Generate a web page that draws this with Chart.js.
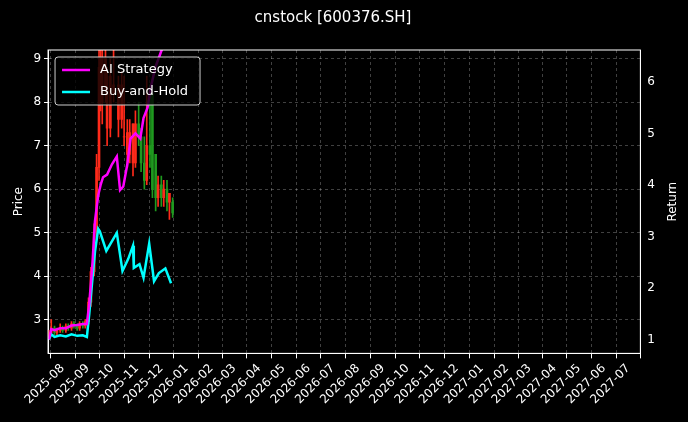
<!DOCTYPE html>
<html lang="en">
<head>
<meta charset="UTF-8" />
<title>cnstock [600376.SH]</title>
<script src="https://cdn.jsdelivr.net/npm/chart.js"></script>
<style>
  html, body { margin: 0; padding: 0; background: #000; }
</style>
</head>
<body>
<canvas id="chart" width="688" height="422"></canvas>
<script>
// Candles: date, open, high, low, close
const candleDates = ['2025-07-15','2025-07-18','2025-07-22','2025-07-25','2025-07-29','2025-08-01','2025-08-05','2025-08-08','2025-08-12','2025-08-15','2025-08-19','2025-08-22','2025-08-26','2025-08-29','2025-09-02','2025-09-05','2025-09-09','2025-09-12','2025-09-15','2025-09-17','2025-09-19','2025-09-23','2025-09-25','2025-09-29','2025-10-03','2025-10-09','2025-10-13','2025-10-16','2025-10-20','2025-10-23','2025-10-27','2025-10-30','2025-11-03','2025-11-06','2025-11-10','2025-11-13','2025-11-17','2025-11-20','2025-11-24','2025-11-27','2025-12-01','2025-12-04','2025-12-08','2025-12-11','2025-12-15'];
const openP  = [2.65,2.70,2.80,2.70,2.75,2.80,2.75,2.85,2.80,2.90,2.85,2.80,2.90,2.85,2.95,3.40,4.10,5.00,6.50,8.20,8.00,8.30,7.40,7.40,8.20,7.60,7.60,7.20,6.80,6.80,6.60,6.60,7.50,7.20,6.60,6.20,7.00,8.20,6.80,5.80,6.10,5.80,6.00,5.70,5.70];
const highP  = [2.75,3.00,2.85,2.80,2.90,2.85,2.90,2.90,2.95,2.95,2.90,2.95,2.95,3.00,3.50,4.20,5.20,6.80,9.50,9.60,9.40,9.60,8.80,9.00,9.40,8.60,8.70,8.60,7.60,7.60,7.50,7.80,8.00,7.40,7.20,8.60,8.40,7.00,6.40,6.30,6.30,6.20,6.20,5.90,5.80];
const lowP   = [2.60,2.65,2.65,2.62,2.70,2.70,2.70,2.75,2.75,2.80,2.75,2.75,2.80,2.80,2.90,3.30,4.00,4.90,6.20,7.80,7.50,8.00,7.00,7.20,8.00,7.20,7.40,7.00,6.50,6.60,6.30,6.50,7.00,6.40,6.00,6.10,6.50,5.80,5.50,5.60,5.60,5.60,5.50,5.30,5.35];
const closeP = [2.70,2.80,2.70,2.75,2.80,2.75,2.85,2.80,2.90,2.85,2.80,2.90,2.85,2.95,3.40,4.10,5.00,6.50,8.80,9.00,9.00,9.00,8.60,8.60,8.40,8.40,8.40,7.20,7.30,7.30,7.50,7.50,7.20,6.60,6.20,7.00,6.80,6.00,5.80,6.10,5.80,6.00,5.70,5.90,5.45];

// Returns
const aiDates = ['2025-07-15','2025-07-18','2025-07-22','2025-07-29','2025-08-05','2025-08-12','2025-08-19','2025-08-26','2025-08-31','2025-09-03','2025-09-07','2025-09-10','2025-09-14','2025-09-17','2025-09-20','2025-09-25','2025-10-01','2025-10-07','2025-10-11','2025-10-15','2025-10-20','2025-10-24','2025-10-30','2025-11-05','2025-11-09','2025-11-14','2025-11-18','2025-11-24','2025-12-01','2025-12-08'];
const aiRet = [1.00,1.20,1.18,1.22,1.22,1.27,1.28,1.30,1.30,1.70,2.50,3.30,3.80,4.00,4.15,4.20,4.40,4.55,3.90,3.97,4.40,4.90,5.00,4.90,5.30,5.50,5.90,6.30,6.60,6.90];
const bhDates = ['2025-07-15','2025-07-18','2025-07-22','2025-07-29','2025-08-05','2025-08-12','2025-08-19','2025-08-26','2025-08-31','2025-09-03','2025-09-07','2025-09-10','2025-09-14','2025-09-16','2025-09-24','2025-10-07','2025-10-14','2025-10-21','2025-10-27','2025-10-28','2025-11-04','2025-11-09','2025-11-16','2025-11-22','2025-11-28','2025-12-06','2025-12-13'];
const bhRet = [1.00,1.10,1.05,1.08,1.06,1.10,1.07,1.08,1.05,1.50,2.20,2.70,3.15,3.10,2.72,3.07,2.33,2.56,2.82,2.39,2.46,2.20,2.86,2.13,2.29,2.38,2.09];

const monthTicks = ['2025-08','2025-09','2025-10','2025-11','2025-12','2026-01','2026-02','2026-03','2026-04','2026-05','2026-06','2026-07','2026-08','2026-09','2026-10','2026-11','2026-12','2027-01','2027-02','2027-03','2027-04','2027-05','2027-06','2027-07'];

const day = s => Date.parse(s.length === 7 ? s + '-01' : s) / 86400000;
const fmt = d => new Date(d * 86400000).toISOString().slice(0, 7);

const candleColor = closeP.map((c, i) => c >= openP[i] ? '#ff2a1a' : '#1f9a1f');
const wicks = candleDates.map((d, i) => ({ x: day(d), y: [lowP[i], highP[i]] }));
const bodies = candleDates.map((d, i) => ({ x: day(d), y: [openP[i], closeP[i]] }));
const FONT = 'DejaVu Sans';

const overlay = {
  id: 'overlay',
  afterDraw(chart) {
    const { ctx, chartArea: a } = chart;
    ctx.save();
    // frame
    ctx.strokeStyle = '#ffffff'; ctx.lineWidth = 1;
    ctx.strokeRect(a.left, a.top, a.right - a.left, a.bottom - a.top);
    // right axis title, bottom-to-top like the left one
    ctx.fillStyle = '#ffffff';
    ctx.font = '12px "' + FONT + '"';
    ctx.translate(673, (a.top + a.bottom) / 2);
    ctx.rotate(-Math.PI / 2);
    ctx.textAlign = 'center'; ctx.textBaseline = 'middle';
    ctx.fillText('Return', 0, 0);
    ctx.setTransform(1, 0, 0, 1, 0, 0);
    // legend inside
    const x = a.left + 7, y = a.top + 7;
    ctx.fillStyle = 'rgba(0,0,0,0.8)';
    ctx.strokeStyle = '#cccccc'; ctx.lineWidth = 1;
    ctx.beginPath();
    ctx.roundRect(x, y, 145, 48, 3);
    ctx.fill(); ctx.stroke();
    ctx.font = '13px "' + FONT + '"';
    ctx.textAlign = 'left'; ctx.textBaseline = 'middle';
    [['AI Strategy', '#ff00ff'], ['Buy-and-Hold', '#00ffff']].forEach(([t, c], i) => {
      const ly = y + 13 + i * 22;
      ctx.strokeStyle = c; ctx.lineWidth = 2.5;
      ctx.beginPath(); ctx.moveTo(x + 7, ly); ctx.lineTo(x + 35, ly); ctx.stroke();
      ctx.fillStyle = '#ffffff';
      ctx.fillText(t, x + 45, ly);
    });
    ctx.restore();
  }
};

new Chart(document.getElementById('chart'), {
  type: 'bar',
  data: {
    datasets: [
      { type: 'line', data: aiDates.map((d, i) => ({ x: day(d), y: aiRet[i] })), yAxisID: 'y2',
        borderColor: '#ff00ff', borderWidth: 2.5, pointRadius: 0, tension: 0, order: 0 },
      { type: 'line', data: bhDates.map((d, i) => ({ x: day(d), y: bhRet[i] })), yAxisID: 'y2',
        borderColor: '#00ffff', borderWidth: 2.5, pointRadius: 0, tension: 0, order: 0 },
      { data: wicks, yAxisID: 'y', backgroundColor: candleColor, barThickness: 1, grouped: false, order: 2 },
      { data: bodies, yAxisID: 'y', backgroundColor: candleColor, barThickness: 2, grouped: false, order: 1 }
    ]
  },
  options: {
    responsive: false,
    animation: false,
    devicePixelRatio: 1,
    layout: { padding: { left: 8, right: 30, top: 4, bottom: 12 } },
    plugins: {
      legend: { display: false },
      tooltip: { enabled: false },
      title: { display: true, text: 'cnstock [600376.SH]', color: '#ffffff',
        font: { family: FONT, size: 15, weight: 'normal' }, padding: { top: 5, bottom: 23 } }
    },
    scales: {
      x: {
        type: 'linear', offset: false,
        min: day('2025-07-14'), max: day('2027-07-16'),
        afterBuildTicks: s => { s.ticks = monthTicks.map(m => ({ value: day(m) })); },
        ticks: { color: '#ffffff', maxRotation: 45, minRotation: 45, autoSkip: false,
          font: { family: FONT, size: 12 }, callback: v => fmt(v) },
        grid: { color: 'rgba(255,255,255,0.25)', tickColor: '#ffffff', tickLength: 5 },
        border: { color: '#ffffff', dash: [3, 3] }
      },
      y: {
        position: 'left', min: 2.22, max: 9.2,
        afterBuildTicks: s => { s.ticks = [3,4,5,6,7,8,9].map(v => ({ value: v })); },
        ticks: { color: '#ffffff', font: { family: FONT, size: 12 } },
        title: { display: true, text: 'Price', color: '#ffffff', font: { family: FONT, size: 12 } },
        grid: { color: 'rgba(255,255,255,0.25)', tickColor: '#ffffff', tickLength: 4 },
        border: { color: '#ffffff', dash: [3, 3] }
      },
      y2: {
        position: 'right', min: 0.73, max: 6.62,
        afterBuildTicks: s => { s.ticks = [1,2,3,4,5,6].map(v => ({ value: v })); },
        ticks: { color: '#ffffff', font: { family: FONT, size: 12 } },
        grid: { display: false, tickColor: '#ffffff', tickLength: 4 },
        border: { color: '#ffffff' }
      }
    }
  },
  plugins: [overlay]
});
</script>
</body>
</html>
